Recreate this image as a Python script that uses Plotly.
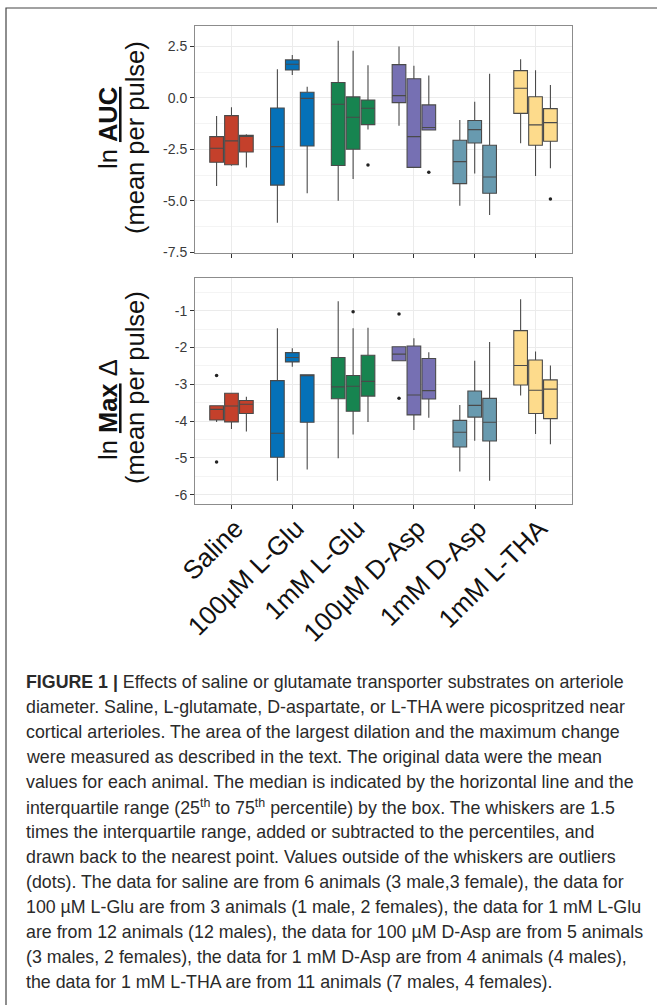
import plotly.graph_objects as go

# ---------------- data ----------------
categories = ["Saline", "100µM L-Glu", "1mM L-Glu", "100µM D-Asp", "1mM D-Asp", "1mM L-THA"]
colors = ["#C4402B", "#0571B8", "#178450", "#7670B3", "#689AAF", "#FDDB8C"]

auc_ticks = [-7.5, -5.0, -2.5, 0.0, 2.5]
auc_ticktext = ["-7.5", "-5.0", "-2.5", "0.0", "2.5"]
mx_ticks = [-6, -5, -4, -3, -2, -1]
mx_ticktext = ["-6", "-5", "-4", "-3", "-2", "-1"]

# ln AUC : three boxes per category
auc_q1 = [[-3.13, -3.25, -2.63], [-4.24, 1.36, -2.34], [-3.29, -2.50, -1.30],
          [-0.23, -3.38, -1.56], [-4.17, -2.19, -4.64], [-0.75, -2.30, -2.11]]
auc_med = [[-2.45, -2.09, -1.84], [-2.37, 1.64, -0.02], [-0.31, -0.94, -0.50],
           [0.11, -1.88, -1.44], [-3.10, -1.54, -3.85], [0.47, -1.31, -1.20]]
auc_q3 = [[-1.88, -0.86, -1.82], [-0.49, 1.85, 0.28], [0.75, 0.05, -0.10],
          [1.62, 0.93, -0.34], [-2.06, -1.10, -2.30], [1.33, 0.06, -0.52]]
auc_lo = [[-4.28, -3.30, -3.39], [-6.07, 1.12, -4.64], [-5.00, -3.94, -1.53],
          [-1.35, -3.38, -1.56], [-5.24, -3.68, -5.70], [-2.21, -3.80, -3.42]]
auc_hi = [[-0.88, -0.45, -1.77], [1.40, 2.09, 0.55], [2.78, 2.29, 1.59],
          [2.50, 1.56, 1.09], [-1.07, -0.19, 1.18], [1.88, 1.35, 0.63]]
auc_out_cat = [2, 3, 5]
auc_out_box = [2, 2, 2]
auc_out_val = [-3.26, -3.62, -4.92]

# ln Max delta : three boxes per category
mx_q1 = [[-3.97, -4.02, -3.79], [-4.98, -2.39, -4.03], [-3.39, -3.73, -3.32],
         [-2.36, -3.83, -3.40], [-4.70, -3.89, -4.54], [-3.02, -3.79, -3.93]]
mx_med = [[-3.68, -3.59, -3.54], [-4.33, -2.27, -2.75], [-3.07, -3.05, -2.92],
          [-2.18, -3.29, -3.17], [-4.30, -3.57, -4.03], [-2.49, -3.16, -3.13]]
mx_q3 = [[-3.58, -3.24, -3.44], [-2.90, -2.14, -2.74], [-2.27, -2.76, -2.21],
         [-1.98, -1.96, -2.30], [-3.98, -3.18, -3.38], [-1.54, -2.34, -2.88]]
mx_lo = [[-4.02, -4.21, -4.28], [-5.62, -2.52, -5.31], [-5.01, -4.36, -4.02],
         [-2.36, -4.24, -3.91], [-5.37, -4.53, -5.62], [-3.30, -4.35, -4.63]]
mx_hi = [[-3.58, -3.24, -3.34], [-1.48, -2.02, -2.74], [-0.74, -1.48, -1.46],
         [-1.98, -1.75, -2.13], [-3.56, -2.36, -1.85], [-0.69, -2.11, -2.49]]
mx_out_cat = [0, 0, 2, 3, 3]
mx_out_box = [0, 0, 1, 0, 0]
mx_out_val = [-2.76, -5.11, -1.03, -1.09, -3.38]

box_offsets = [-0.245, 0.0, 0.245]

caption_lines = [
    "<b>FIGURE 1 |</b> Effects of saline or glutamate transporter substrates on arteriole",
    "diameter. Saline, L-glutamate, D-aspartate, or L-THA were picospritzed near",
    "cortical arterioles. The area of the largest dilation and the maximum change",
    "were measured as described in the text. The original data were the mean",
    "values for each animal. The median is indicated by the horizontal line and the",
    "interquartile range (25<sup>th</sup> to 75<sup>th</sup> percentile) by the box. The whiskers are 1.5",
    "times the interquartile range, added or subtracted to the percentiles, and",
    "drawn back to the nearest point. Values outside of the whiskers are outliers",
    "(dots). The data for saline are from 6 animals (3 male,3 female), the data for",
    "100 µM L-Glu are from 3 animals (1 male, 2 females), the data for 1 mM L-Glu",
    "are from 12 animals (12 males), the data for 100 µM D-Asp are from 5 animals",
    "(3 males, 2 females), the data for 1 mM D-Asp are from 4 animals (4 males),",
    "the data for 1 mM L-THA are from 11 animals (7 males, 4 females).",
]

# ---------------- layout geometry (pixels) ----------------
W, H = 657, 1005
L_PX, R_PX, T_PX, B_PX = 195, 572, 26, 504


def px_x(px):
    return (px - L_PX) / (R_PX - L_PX)


def px_y(py):
    return (B_PX - py) / (B_PX - T_PX)


FONT = "Liberation Sans, Arial, sans-serif"
fig = go.Figure()


def add_panel(q1, med, q3, lo, hi, oc, ob, ov, xa, ya):
    for ci, cat in enumerate(categories):
        xs = [ci + o for o in box_offsets]
        fig.add_trace(go.Box(
            x=xs, q1=q1[ci], median=med[ci], q3=q3[ci],
            lowerfence=lo[ci], upperfence=hi[ci],
            width=0.225, whiskerwidth=0, boxpoints=False,
            fillcolor=colors[ci], line=dict(color="#4a4a4a", width=1.1),
            xaxis=xa, yaxis=ya, showlegend=False, hoverinfo="skip",
        ))
    fig.add_trace(go.Scatter(
        x=[c + box_offsets[b] for c, b in zip(oc, ob)], y=ov, mode="markers",
        marker=dict(color="#222222", size=3.5), xaxis=xa, yaxis=ya,
        showlegend=False, hoverinfo="skip",
    ))


add_panel(auc_q1, auc_med, auc_q3, auc_lo, auc_hi, auc_out_cat, auc_out_box, auc_out_val, "x", "y")
add_panel(mx_q1, mx_med, mx_q3, mx_lo, mx_hi, mx_out_cat, mx_out_box, mx_out_val, "x2", "y2")

xcommon = dict(range=[-0.6, 5.6], tickvals=list(range(6)), showgrid=True,
               gridcolor="#EBEBEB", gridwidth=1, zeroline=False, ticks="outside",
               ticklen=4, tickcolor="#333333", showline=True, mirror=True,
               linecolor="#8C8C8C", linewidth=1)
ycommon = dict(showgrid=True, gridcolor="#EBEBEB", gridwidth=1, zeroline=False,
               ticks="outside", ticklen=4, tickcolor="#333333", showline=True,
               mirror=True, linecolor="#8C8C8C", linewidth=1,
               tickfont=dict(family=FONT, size=14, color="#3A3A3A"))

fig.update_layout(
    width=W, height=H, autosize=False,
    margin=dict(l=L_PX, r=W - R_PX, t=T_PX, b=H - B_PX, pad=0),
    paper_bgcolor="white", plot_bgcolor="white", boxmode="overlay",
    font=dict(family=FONT, color="#222222"),
    xaxis=dict(**xcommon, domain=[0, 1], anchor="y", showticklabels=False),
    yaxis=dict(**ycommon, domain=[px_y(252.7), 1], anchor="x",
               range=[-7.53, 3.5], tickvals=auc_ticks, ticktext=auc_ticktext,
               minor=dict(tick0=0, dtick=1.25, showgrid=True, gridcolor="#F4F4F4")),
    xaxis2=dict(**xcommon, domain=[0, 1], anchor="y2", ticktext=categories,
                tickangle=-45, ticklabelstandoff=-6, ticklabelshift=4,
                tickfont=dict(family=FONT, size=26, color="#111111")),
    yaxis2=dict(**ycommon, domain=[0, px_y(278.3)], anchor="x2",
                range=[-6.25, -0.12], tickvals=mx_ticks, ticktext=mx_ticktext,
                minor=dict(tick0=0, dtick=0.5, showgrid=True, gridcolor="#F4F4F4")),
)

# y-axis titles
ytitles = [
    ("ln <b><u>AUC</u></b>", 108, 128),
    ("(mean per pulse)", 135, 138),
    ("ln <b><u>Max</u></b> Δ", 108, 410),
    ("(mean per pulse)", 135, 388),
]
for txt, xp, yp in ytitles:
    fig.add_annotation(text=txt, xref="paper", yref="paper", x=px_x(xp), y=px_y(yp),
                       xanchor="center", yanchor="middle", textangle=-90, showarrow=False,
                       font=dict(family=FONT, size=25.5, color="#111111"))

# caption
for i, line in enumerate(caption_lines):
    fig.add_annotation(text=line, xref="paper", yref="paper", x=px_x(24), y=px_y(682 + 25 * i),
                       xanchor="left", yanchor="middle", align="left", showarrow=False,
                       font=dict(family=FONT, size=17.8, color="#2A2A2A"))

# outer figure frame
fig.add_shape(type="rect", xref="paper", yref="paper", x0=px_x(6), y0=px_y(8),
              x1=px_x(720), y1=px_y(1100), line=dict(color="#444444", width=1.2),
              fillcolor="rgba(0,0,0,0)", layer="above")

fig.write_html("out.html", config={"displayModeBar": False},
               post_script="document.body.style.margin='0px';document.body.style.overflow='hidden';")
